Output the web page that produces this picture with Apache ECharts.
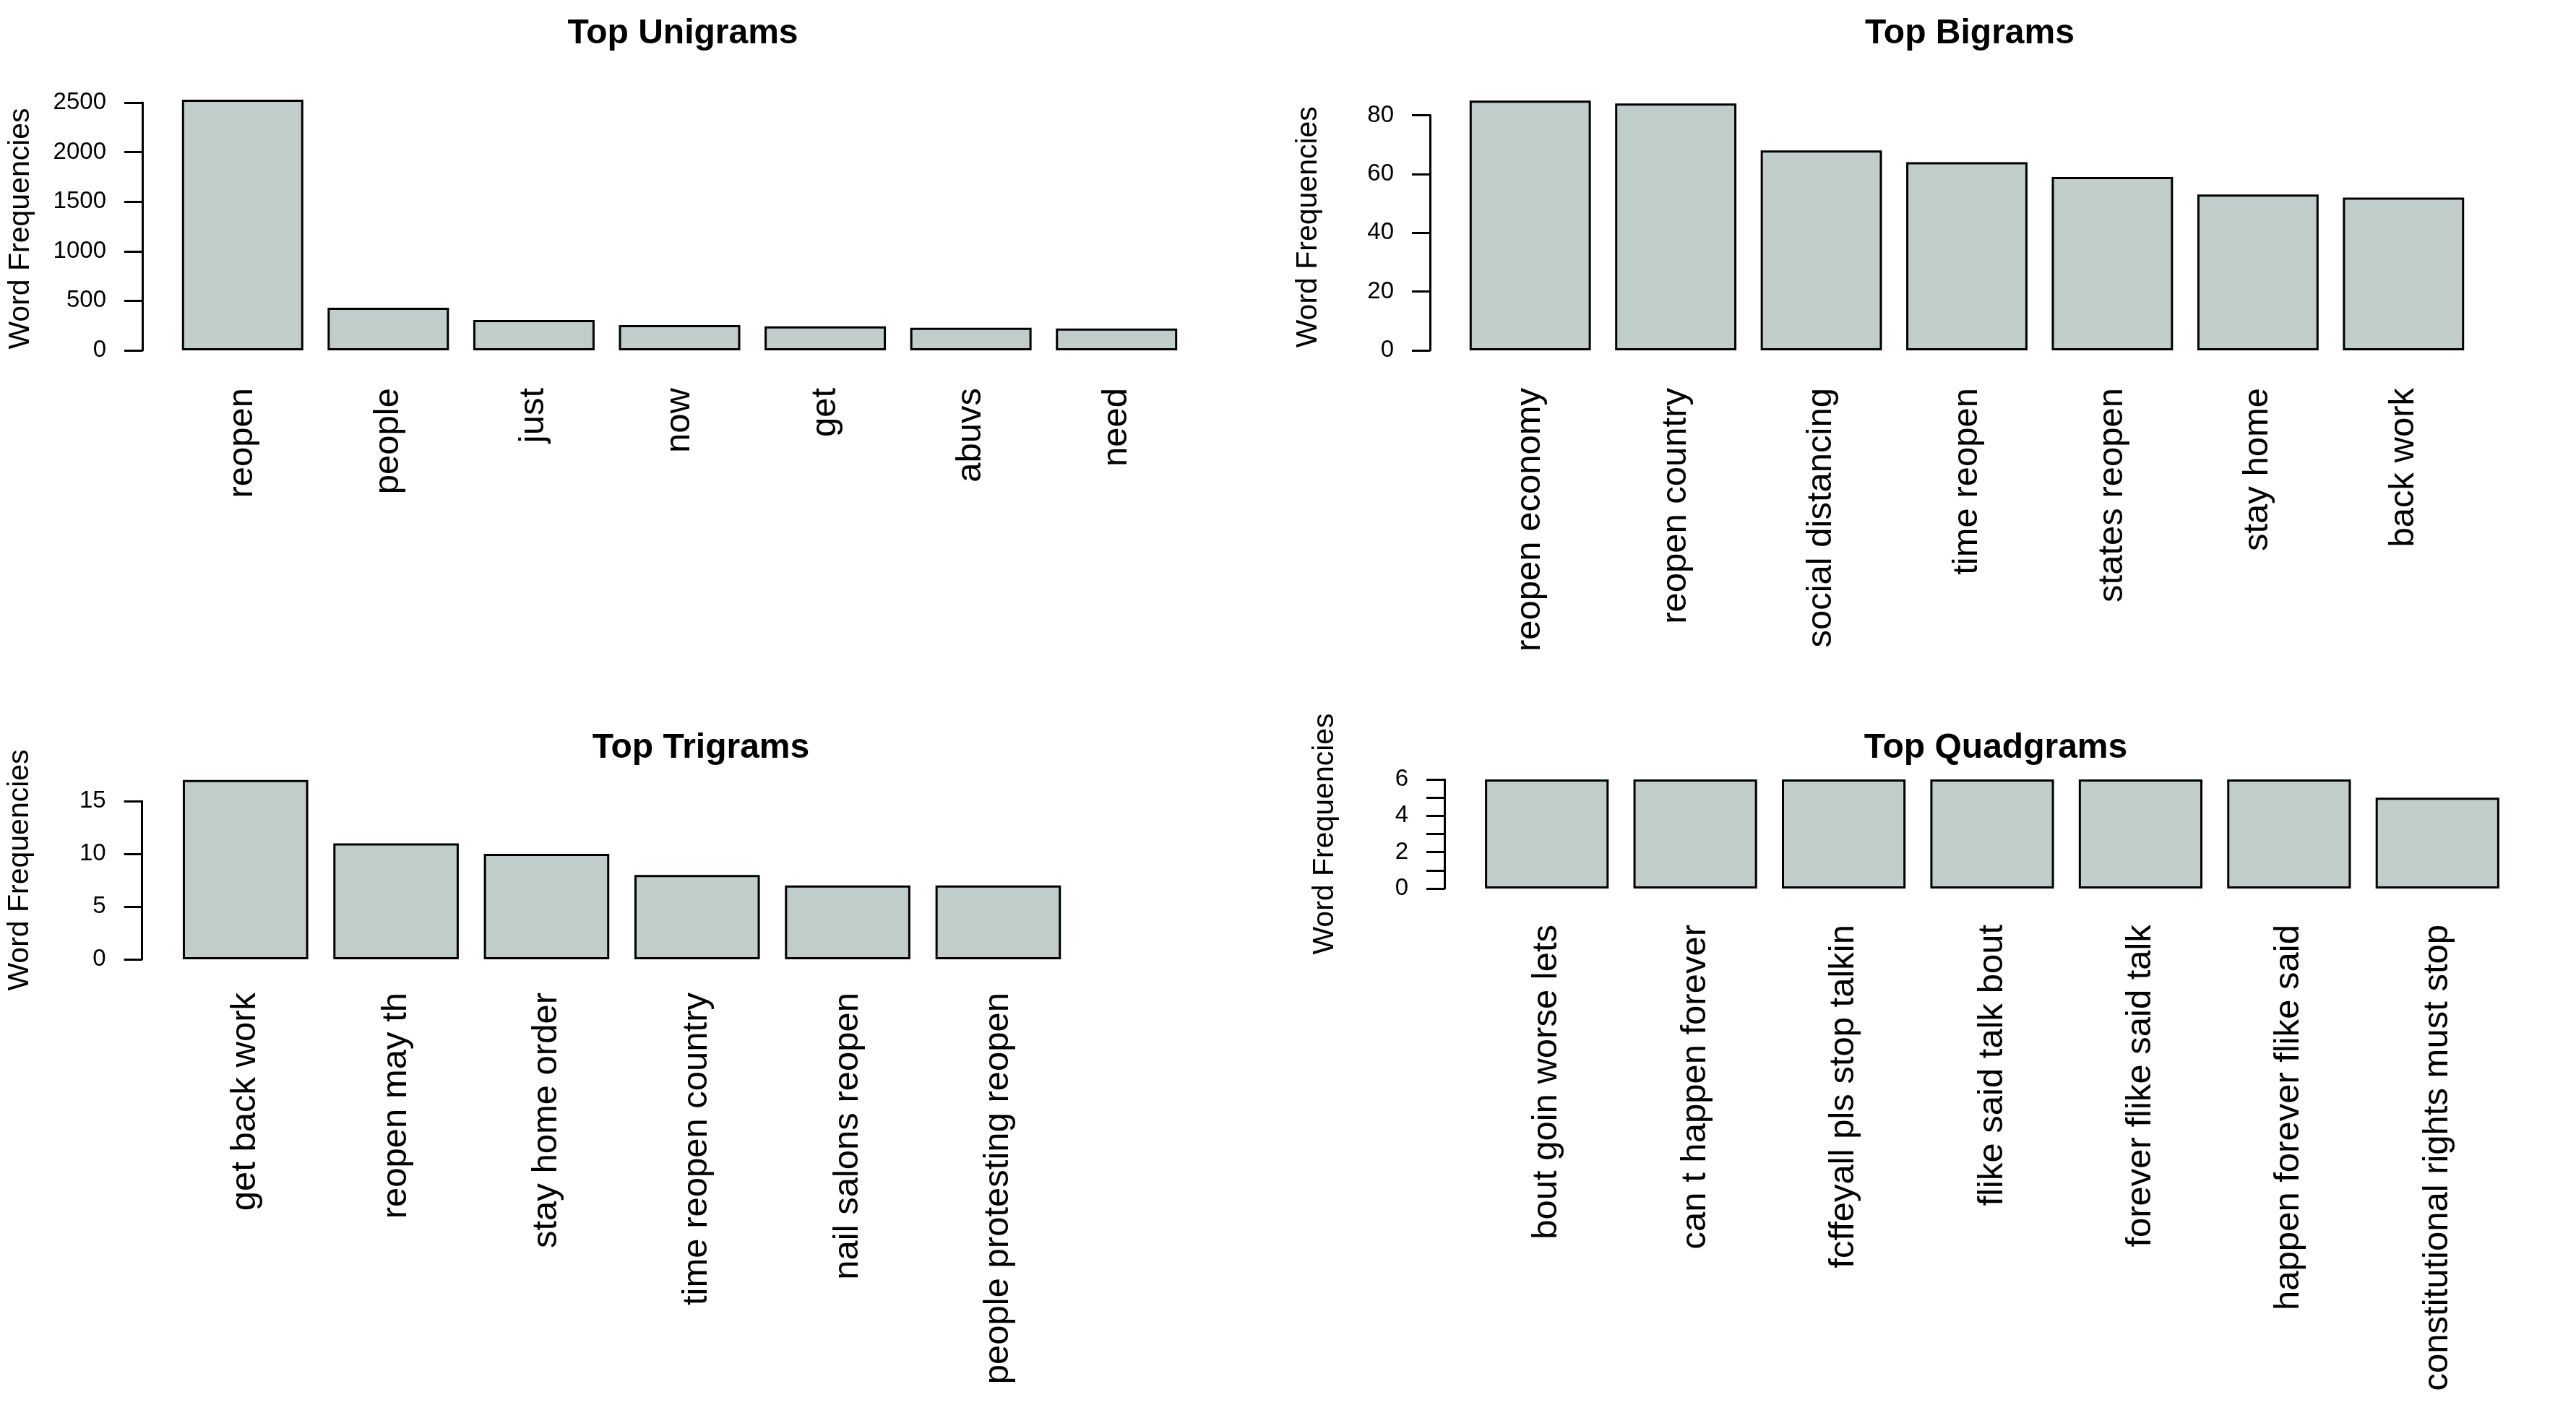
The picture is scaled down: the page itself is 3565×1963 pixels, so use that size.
<!DOCTYPE html>
<html>
<head>
<meta charset="utf-8">
<title>Top n-grams</title>
<script src="https://cdn.jsdelivr.net/npm/echarts@6/dist/echarts.min.js"></script>
<style>
  html, body { margin: 0; padding: 0; background: #fff; }
  #chart { width: 3565px; height: 1963px; }
</style>
</head>
<body>
<div id="chart"></div>
<script>
// word frequencies
const unigramLabels = ['reopen', 'people', 'just', 'now', 'get', 'abuvs', 'need'];
const unigramFreq = [2530, 430, 307, 256, 242, 227, 220];

const bigramLabels = ['reopen economy', 'reopen country', 'social distancing', 'time reopen', 'states reopen', 'stay home', 'back work'];
const bigramFreq = [85, 84, 68, 64, 59, 53, 52];

const trigramLabels = ['get back work', 'reopen may th', 'stay home order', 'time reopen country', 'nail salons reopen', 'people protesting reopen'];
const trigramFreq = [17, 11, 10, 8, 7, 7];

const quadgramLabels = ['bout goin worse lets', 'can t happen forever', 'fcffeyall pls stop talkin', 'flike said talk bout', 'forever flike said talk', 'happen forever flike said', 'constitutional rights must stop'];
const quadgramFreq = [6, 6, 6, 6, 6, 6, 5];

// y axis ticks of each panel
const yMax = [2500, 80, 15, 6];
const yStep = [500, 20, 5, 1];
const yLabelEvery = [1, 1, 1, 2];

const FONT = '"Liberation Sans", Arial, Helvetica, sans-serif';
const BAR_COLOR = '#c0cdca';

// panel placement in pixels; namePad > 0 moves the y title up, < 0 down
const panels = [
  { title: 'Top Unigrams', cats: unigramLabels, vals: unigramFreq,
    left: 235, top: 142, width: 1411, height: 343, offset: 38, nameGap: 148, namePad: -6, labelMargin: 52, titleX: 940, titleY: 18 },
  { title: 'Top Bigrams', cats: bigramLabels, vals: bigramFreq,
    left: 2017, top: 159.5, width: 1410, height: 325.5, offset: 38, nameGap: 148, namePad: 16, labelMargin: 52, titleX: 2721, titleY: 18 },
  { title: 'Top Trigrams', cats: trigramLabels, vals: trigramFreq,
    left: 235.6, top: 1109, width: 1250, height: 219, offset: 39, nameGap: 148, namePad: 28, labelMargin: 46, titleX: 965, titleY: 1007 },
  { title: 'Top Quadgrams', cats: quadgramLabels, vals: quadgramFreq,
    left: 2038, top: 1079, width: 1438, height: 151, offset: 39, nameGap: 145, namePad: 0, labelMargin: 50, titleX: 2757, titleY: 1007 }
];

const chart = echarts.init(document.getElementById('chart'));

const option = {
  animation: false,
  backgroundColor: '#fff',
  textStyle: { fontFamily: FONT, color: '#000' },
  title: panels.map(p => ({
    text: p.title,
    left: p.titleX,
    top: p.titleY,
    textAlign: 'center',
    textStyle: { fontSize: 48, fontWeight: 'bold', color: '#000', fontFamily: FONT }
  })),
  grid: panels.map(p => ({ left: p.left, top: p.top, width: p.width, height: p.height })),
  xAxis: panels.map((p, i) => ({
    type: 'category',
    gridIndex: i,
    data: p.cats,
    axisLine: { show: false },
    axisTick: { show: false },
    axisLabel: { rotate: 90, interval: 0, margin: p.labelMargin, fontSize: 49, color: '#000', fontFamily: FONT }
  })),
  yAxis: panels.map((p, i) => ({
    type: 'value',
    gridIndex: i,
    min: 0,
    max: yMax[i],
    interval: yStep[i],
    offset: p.offset,
    name: 'Word Frequencies',
    nameLocation: 'middle',
    nameGap: p.nameGap,
    nameTextStyle: {
      fontSize: 41, color: '#000', fontFamily: FONT,
      padding: [0, Math.max(0, -p.namePad), 0, Math.max(0, p.namePad)]
    },
    axisLine: { show: true, lineStyle: { color: '#000', width: 3 } },
    axisTick: { show: true, length: 25, lineStyle: { color: '#000', width: 3 } },
    axisLabel: {
      margin: 50, fontSize: 33, color: '#000', fontFamily: FONT,
      formatter: v => (Math.round(v / yStep[i]) % yLabelEvery[i] === 0 ? String(v) : '')
    },
    splitLine: { show: false }
  })),
  series: panels.map((p, i) => ({
    type: 'bar',
    xAxisIndex: i,
    yAxisIndex: i,
    data: p.vals,
    barCategoryGap: '16.67%',
    clip: false,
    silent: true,
    itemStyle: { color: BAR_COLOR, borderColor: '#000', borderWidth: 3 }
  }))
};

chart.setOption(option);
</script>
</body>
</html>
